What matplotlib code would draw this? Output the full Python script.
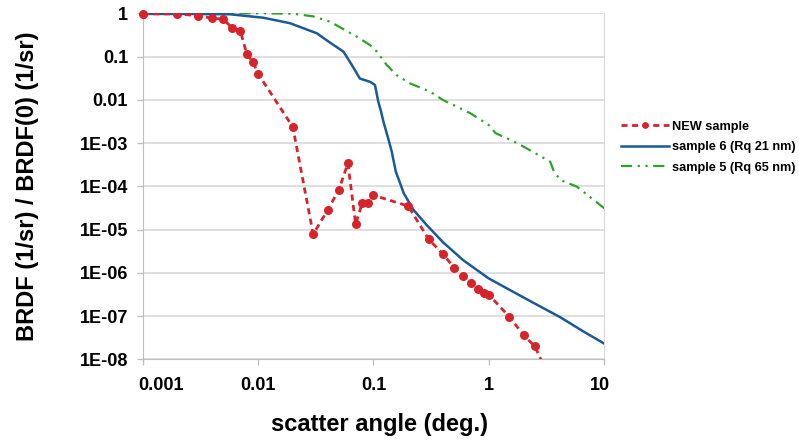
import matplotlib
matplotlib.use('Agg')
import matplotlib.pyplot as plt
import matplotlib.transforms as mtransforms
import numpy as np

plt.rcParams['font.family'] = ['Liberation Sans', 'DejaVu Sans']
plt.rcParams['font.weight'] = 'bold'

# NEW sample (measured points)
new_x = [0.001, 0.002, 0.003, 0.004, 0.005, 0.006, 0.007, 0.008, 0.009, 0.01,
         0.02, 0.03, 0.04, 0.05, 0.06, 0.07, 0.08, 0.09, 0.1,
         0.2, 0.3, 0.4, 0.5, 0.6, 0.7, 0.8, 0.9, 1.0, 1.5, 2.0, 2.5, 3.0]
new_y = [0.97, 0.97, 0.88, 0.77, 0.73, 0.45, 0.40, 0.112, 0.076, 0.040,
         0.00235, 7.8e-6, 2.8e-5, 8.2e-5, 3.4e-4, 1.34e-5, 4.1e-5, 4.1e-5, 6.2e-5,
         3.5e-5, 6.0e-6, 2.7e-6, 1.31e-6, 8.4e-7, 5.9e-7, 4.3e-7, 3.5e-7, 3.1e-7,
         9.7e-8, 3.6e-8, 2.0e-8, 7e-9]

# sample 6 (Rq 21 nm)
s6_x = [0.001, 0.003, 0.0057, 0.0111, 0.0189, 0.0323, 0.042, 0.0549, 0.0649, 0.0762,
        0.0935, 0.103, 0.110, 0.116, 0.122, 0.134, 0.144, 0.156, 0.166, 0.183,
        0.222, 0.29, 0.40, 0.60, 0.99, 1.52, 2.45, 4.15, 6.6, 10.0]
s6_y = [0.97, 0.96, 0.95, 0.79, 0.59, 0.345, 0.21, 0.13, 0.064, 0.031,
        0.026, 0.022, 0.0091, 0.0055, 0.0031, 0.00129, 6.3e-4, 2.2e-4, 1.4e-4, 6.9e-5,
        2.85e-5, 1.26e-5, 5.1e-6, 1.95e-6, 7.5e-7, 4.0e-7, 2.0e-7, 9.4e-8, 4.4e-8, 2.3e-8]

# sample 5 (Rq 65 nm)
s5_x = [0.001, 0.005, 0.01, 0.02, 0.03, 0.042, 0.0715, 0.093, 0.107, 0.13,
        0.159, 0.207, 0.31, 0.40, 0.69, 1.0, 1.14, 1.77, 3.4, 3.66,
        4.16, 5.8, 10.0]
s5_y = [1.0, 1.0, 1.0, 0.98, 0.85, 0.64, 0.29, 0.185, 0.13, 0.064,
        0.037, 0.024, 0.0154, 0.0099, 0.0049, 0.0026, 0.0017, 9.9e-4, 3.7e-4, 2.2e-4,
        1.4e-4, 9.8e-5, 3.1e-5]

yticks = [1, 0.1, 0.01, 1e-3, 1e-4, 1e-5, 1e-6, 1e-7, 1e-8]
ytick_labels = ['1', '0.1', '0.01', '1E-03', '1E-04', '1E-05', '1E-06', '1E-07', '1E-08']
xticks = [0.001, 0.01, 0.1, 1, 10]
xtick_labels = ['0.001', '0.01', '0.1', '1', '10']

red = '#d7242c'
blue = '#1b5a9a'
green = '#2ba42b'
grid_c = '#d9d9d9'

fig = plt.figure(figsize=(7.99, 4.42), dpi=100)
ax = fig.add_axes([0.1786, 0.1871, 0.5777, 0.7828])

ax.plot(new_x, new_y, color=red, lw=2, ls=(0, (2.2, 1.6)), marker='o', ms=6.5,
        markeredgewidth=0, label='NEW sample', zorder=4)
# first marker sits on the left spine and is not cut off
ax.plot(new_x[:1], new_y[:1], color=red, ls='none', marker='o', ms=6.5,
        markeredgewidth=0, clip_on=False, zorder=4)
ax.plot(s6_x, s6_y, color=blue, lw=1.8, label='sample 6 (Rq 21 nm)', zorder=3)
ax.plot(s5_x, s5_y, color=green, lw=1.6, ls=(0, (5, 2.5, 1, 2.5, 1, 2.5)),
        label='sample 5 (Rq 65 nm)', zorder=2)

ax.set_xscale('log')
ax.set_yscale('log')
ax.set_xlim(0.001, 10)
ax.set_ylim(1e-8, 1)

ax.set_yticks(yticks)
ax.set_yticklabels(ytick_labels)
ax.set_xticks(xticks)
ax.set_xticklabels(xtick_labels)
ax.minorticks_off()
ax.tick_params(axis='both', which='major', labelsize=13, length=4.5, color='#bfbfbf',
               width=1)
ax.tick_params(axis='y', pad=6)
ax.tick_params(axis='x', pad=8)
for lab in ax.get_xticklabels() + ax.get_yticklabels():
    lab.set_fontweight('bold')
first = ax.get_xticklabels()[0]
first.set_horizontalalignment('left')
first.set_transform(first.get_transform() +
                    mtransforms.ScaledTranslation(-3 / 72, 0, fig.dpi_scale_trans))
last = ax.get_xticklabels()[-1]
last.set_transform(last.get_transform() +
                   mtransforms.ScaledTranslation(-3 / 72, 0, fig.dpi_scale_trans))

ax.grid(axis='y', color=grid_c, lw=1.2)
ax.set_axisbelow(True)
for s in ['left', 'bottom']:
    ax.spines[s].set_color('#bfbfbf')
ax.spines['right'].set_color(grid_c)
ax.spines['top'].set_visible(False)

ax.set_xlabel('scatter angle (deg.)', fontsize=17, fontweight='bold', labelpad=14)
ax.xaxis.label.set_x(0.514)
ax.set_ylabel('BRDF (1/sr) / BRDF(0) (1/sr)', fontsize=17, fontweight='bold', labelpad=29)

ax.legend(loc='center left', bbox_to_anchor=(1.012, 0.613), frameon=False, fontsize=9.2,
          handlelength=3.7, handletextpad=0.3, labelspacing=0.68, markerscale=0.75)

fig.savefig('out.png', dpi=100)
